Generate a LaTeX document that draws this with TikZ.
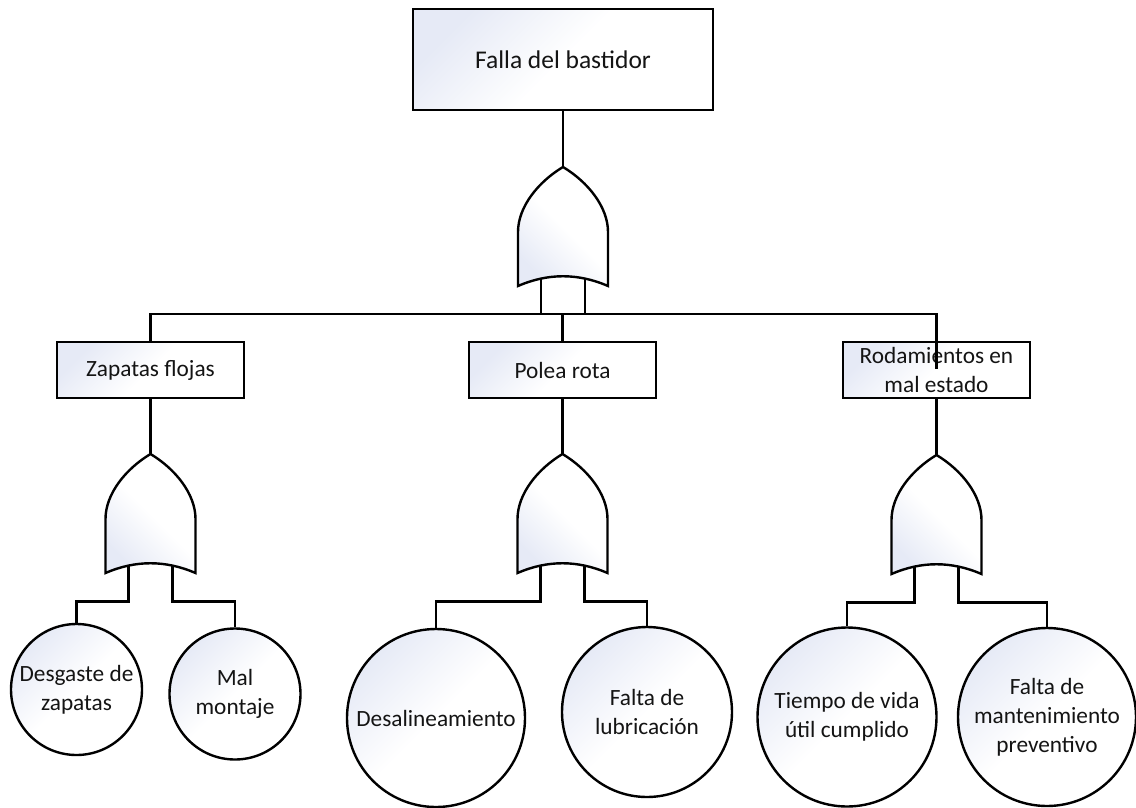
\documentclass[tikz,border=0pt]{standalone}
\usepackage{fontspec}
\setmainfont{Carlito}
\usetikzlibrary{calc}

\definecolor{fillblue}{RGB}{230,234,246}

\tikzset{
  wire/.style={draw=black, line width=2.4pt},
  softfill/.style={top color=fillblue, bottom color=white, middle color=white, shading angle=45},
  label font/.style={font=\fontsize{23.3}{29}\selectfont, align=center, text=black!92},
  eventbox/.style={wire, softfill, label font, rectangle, inner sep=0pt,
                   minimum width=187pt, minimum height=56pt},
  basicevent/.style={wire, softfill, label font, circle, inner sep=0pt},
  gatebody/.style={wire, top color=fillblue, bottom color=white, middle color=white, shading angle=135},
  orgate/.pic={
    \coordinate (-apex) at (0,0);
    \coordinate (-l) at (-22,111.5);
    \coordinate (-r) at (22,111.5);
    \coordinate (-jl) at (-22,147.5);
    \coordinate (-jr) at (22,147.5);
    \path[gatebody] (0,0) .. controls (-25,15) and (-45,40) .. (-45,65)
      -- (-45,119) .. controls (-15,106) and (15,106) .. (45,119)
      -- (45,65) .. controls (45,40) and (25,15) .. (0,0) -- cycle;
  }
}

\begin{document}
\begin{tikzpicture}[x=1pt, y=-1pt]
\useasboundingbox (0,0) rectangle (1136,807);

% top event
\node[eventbox, minimum width=300pt, minimum height=101pt,
      font=\fontsize{25.5}{30}\selectfont] (top) at (563,59.5) {Falla del bastidor};
\pic (g0) at (563,167) {orgate};
\draw[wire] (top.south) -- (g0-apex);

% intermediate events
\node[eventbox] (b1) at (150.5,370) {Zapatas flojas};
\node[eventbox] (b2) at (562.5,370) {Polea rota};
\node[eventbox] (b3) at (936.5,370) {Rodamientos en\\mal estado};

% bus under the top gate
\coordinate (busL) at (150.5,314);
\coordinate (busR) at (936.5,314);
\draw[wire] (g0-l) -- (g0-jl);
\draw[wire] (g0-r) -- (g0-jr);
\draw[wire] (b1.north) -- (busL) -- (busR) -- ($(b3.north)+(0,28)$);
\draw[wire] (b2.north |- busL) -- (b2.north);

% second-level gates
\pic (g1) at (150.5,454) {orgate};
\pic (g2) at (562.5,454) {orgate};
\pic (g3) at (936.5,455) {orgate};
\draw[wire] (b1.south) -- (g1-apex);
\draw[wire] (b2.south) -- (g2-apex);
\draw[wire] (b3.south) -- (g3-apex);

% basic events
\node[basicevent, minimum size=131pt] (c11) at (76.5,689.5) {Desgaste de\\zapatas};
\node[basicevent, minimum size=131pt] (c12) at (235,694) {Mal\\montaje};
\node[basicevent, minimum size=178pt] (c21) at (436,718) {Desalineamiento};
\node[basicevent, minimum size=170pt] (c22) at (647,712) {Falta de\\lubricación};
\node[basicevent, minimum size=179pt] (c31) at (847,717) {Tiempo de vida\\útil cumplido};
\node[basicevent, minimum size=178pt] (c32) at (1047,717) {Falta de\\mantenimiento\\preventivo};

% gate inputs
\draw[wire] (g1-l) -- (g1-jl) -| (c11.north);
\draw[wire] (g1-r) -- (g1-jr) -| (c12.north);
\draw[wire] (g2-l) -- (g2-jl) -| (c21.north);
\draw[wire] (g2-r) -- (g2-jr) -| (c22.north);
\draw[wire] (g3-l) -- (g3-jl) -| (c31.north);
\draw[wire] (g3-r) -- (g3-jr) -| (c32.north);
\end{tikzpicture}
\end{document}
